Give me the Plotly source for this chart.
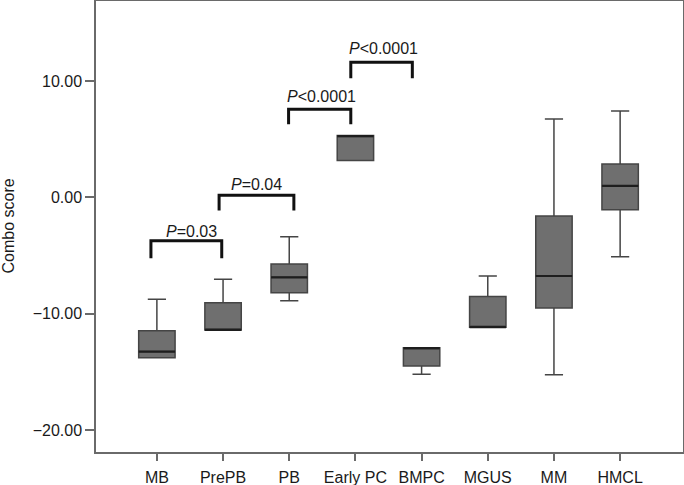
import plotly.graph_objects as go

# ---- data ----
categories = ["MB", "PrePB", "PB", "Early PC", "BMPC", "MGUS", "MM", "HMCL"]
lower_whisker = [-13.79, -11.41, -8.89, 3.15, -15.22, -11.17, -15.25, -5.11]
q1_values = [-13.79, -11.41, -8.20, 3.15, -14.51, -11.17, -9.52, -1.07]
medians = [-13.27, -11.41, -6.88, 5.25, -12.97, -11.17, -6.77, 0.97]
q3_values = [-11.47, -9.06, -5.73, 5.30, -12.93, -8.54, -1.61, 2.86]
upper_whisker = [-8.77, -7.04, -3.39, 5.30, -12.93, -6.77, 6.73, 7.42]

y_tick_values = [-20, -10, 0, 10]

# significance brackets
bracket_labels = ["<i>P</i>=0.03", "<i>P</i>=0.04", "<i>P</i>&lt;0.0001", "<i>P</i>&lt;0.0001"]
bracket_left = [-0.09, 0.94, 1.99, 2.93]
bracket_right = [0.98, 2.07, 2.93, 3.86]
bracket_top = [-3.73, 0.17, 7.56, 11.60]
bracket_bottom = [-5.24, -1.15, 6.28, 10.23]
label_x = [0.52, 1.50, 2.49, 3.42]
label_y = [-2.96, 1.08, 8.68, 12.75]

positions = list(range(len(categories)))
BOX_WIDTH = 0.55

FONT = "Liberation Sans, Arial, Helvetica, sans-serif"

fig = go.Figure()
fig.add_trace(go.Box(
    x=positions,
    q1=q1_values,
    median=medians,
    q3=q3_values,
    lowerfence=lower_whisker,
    upperfence=upper_whisker,
    width=BOX_WIDTH,
    whiskerwidth=0.5,
    fillcolor="#6f6f6f",
    line=dict(color="#454545", width=1.5),
    boxpoints=False,
    showlegend=False,
    hoverinfo="skip",
))

# darker median lines, derived from the median values
mx, my = [], []
for p, m in zip(positions, medians):
    mx += [p - BOX_WIDTH / 2, p + BOX_WIDTH / 2, None]
    my += [m, m, None]
fig.add_trace(go.Scatter(
    x=mx, y=my, mode="lines",
    line=dict(color="#1e1e1e", width=2.2),
    showlegend=False, hoverinfo="skip",
))

for i in range(len(bracket_labels)):
    x0, x1 = bracket_left[i], bracket_right[i]
    yt, yb = bracket_top[i], bracket_bottom[i]
    fig.add_shape(
        type="path",
        path=f"M {x0},{yb} L {x0},{yt} L {x1},{yt} L {x1},{yb}",
        xref="x", yref="y",
        line=dict(color="#111111", width=3),
    )
    fig.add_annotation(
        x=label_x[i], y=label_y[i], xref="x", yref="y",
        text=bracket_labels[i], showarrow=False,
        xanchor="center", yanchor="middle",
        font=dict(family=FONT, size=16, color="#1a1a1a"),
    )

fig.add_annotation(
    x=0, y=0.5, xref="paper", yref="paper",
    xshift=-88, text="Combo score", textangle=-90,
    showarrow=False, xanchor="center", yanchor="middle",
    font=dict(family=FONT, size=16, color="#1a1a1a"),
)

fig.update_layout(
    template="none",
    width=684, height=485,
    margin=dict(l=96, r=1, t=1, b=33),
    paper_bgcolor="white", plot_bgcolor="white",
    font=dict(family=FONT, size=16, color="#1a1a1a"),
    showlegend=False,
)
fig.update_xaxes(
    automargin=False,
    range=[-0.92, 7.95],
    tickvals=positions, ticktext=categories,
    ticklabelstandoff=3,
    showgrid=False, zeroline=False,
    showline=True, linecolor="#6a6a6a", linewidth=1.5, mirror=True,
    ticks="outside", ticklen=7, tickwidth=1.5, tickcolor="#6a6a6a",
)
fig.update_yaxes(
    automargin=False,
    range=[-21.9, 16.87],
    tickvals=y_tick_values, tickformat=".2f",
    showgrid=False, zeroline=False,
    showline=True, linecolor="#6a6a6a", linewidth=1.5, mirror=True,
    ticks="outside", ticklen=9, tickwidth=1.5, tickcolor="#6a6a6a",
)

fig.write_html(
    "out.html",
    config={"displayModeBar": False},
    post_script="document.body.style.margin='0px';document.body.style.padding='0px';",
)
